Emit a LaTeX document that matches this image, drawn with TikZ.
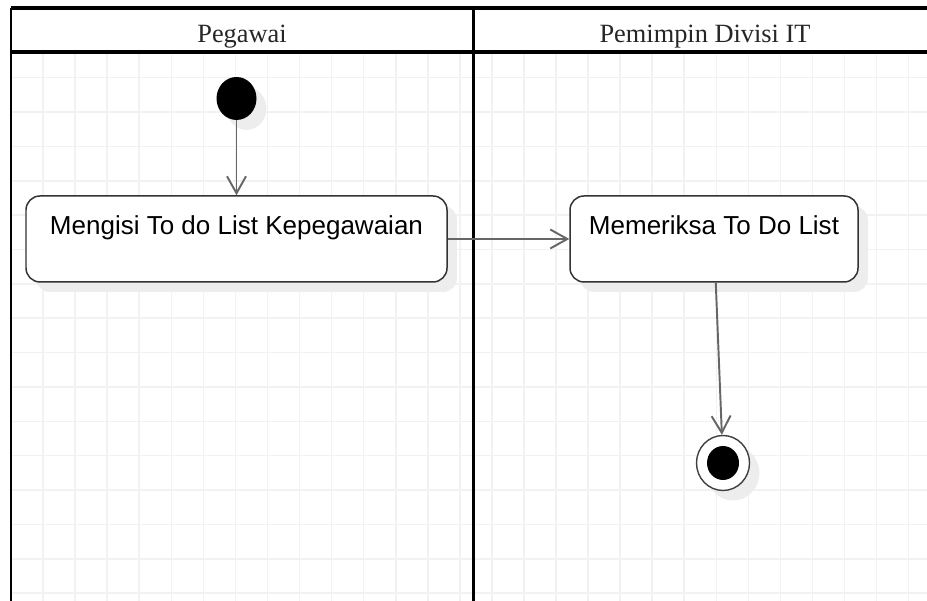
\documentclass[tikz,border=0pt]{standalone}
\usepackage{fontspec}
\setmainfont{Liberation Serif}
\setsansfont{Liberation Sans}
\usetikzlibrary{arrows.meta,shapes.geometric,shadows}

\begin{document}
\begin{tikzpicture}[
  > = {Straight Barb[length=0.34cm,width=0.38cm]},
  gridline/.style = {draw=black!5,line width=0.9pt},
  lane/.style = {line width=2.2pt},
  lanehead/.style = {anchor=base,text=black!85,font=\fontsize{15}{18}\selectfont},
  softshadow/.style = {drop shadow={shadow xshift=0.2cm,shadow yshift=-0.2cm,fill=black!7,opacity=1}},
  activity/.style = {draw=black!80,line width=0.85pt,fill=white,rounded corners=0.28cm,softshadow,
    inner xsep=0pt,inner ysep=0.38cm,text height=0.4cm,text depth=0.56cm,
    font=\sffamily\fontsize{14.8}{18}\selectfont},
  initdot/.style = {ellipse,fill=black,minimum width=0.8cm,minimum height=0.86cm,inner sep=0pt,softshadow},
  finalring/.style = {ellipse,draw=black!75,line width=0.8pt,fill=white,minimum width=1.06cm,minimum height=1.1cm,inner sep=0pt,softshadow},
  finaldot/.style = {ellipse,fill=black,minimum width=0.64cm,minimum height=0.68cm,inner sep=0pt},
  flow/.style = {->,draw=black!60,line width=1.1pt}
  ]
  \useasboundingbox (0,0) rectangle (18.54,12.02);
  \foreach \i in {1,...,28}
    \draw[gridline] ({0.22+0.6412*\i},0) -- ({0.22+0.6412*\i},10.98);
  \foreach \j in {2,...,17}
    \draw[gridline] (0.22,{11.842-0.6874*\j}) -- (18.54,{11.842-0.6874*\j});

  \draw[lane] (0.22,11.86) -- (18.54,11.86);
  \draw[lane] (0.22,10.98) -- (18.54,10.98);
  \draw[lane,line width=1.4pt] (0.22,0) -- (0.22,11.86);
  \draw[lane,line width=2pt] (9.474,0) -- (9.474,11.86);
  \node[lanehead] (@pegawai) at (4.84,11.166) {Pegawai};
  \node[lanehead] (@pemimpin) at (14.1,11.166) {Pemimpin Divisi IT};

  \node[initdot] (@start) at (4.73,10.05) {};
  \node[activity,minimum width=8.42cm] (@isi) at (4.73,7.24) {Mengisi To do List Kepegawaian};
  \node[activity,minimum width=5.76cm] (@periksa) at (14.28,7.24) {Memeriksa To Do List};
  \node[finalring] (@end) at (14.46,2.76) {};
  \node[finaldot] (@enddot) at (@end) {};

  \draw[flow] (@start) -- (@isi);
  \draw[flow] (@isi) -- (@periksa);
  \draw[flow] (@periksa) -- (@end);
\end{tikzpicture}
\end{document}
